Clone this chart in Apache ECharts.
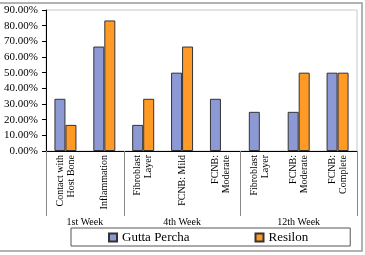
<!DOCTYPE html>
<html lang="en">
<head>
  <meta charset="UTF-8">
  <title>Chart</title>
  <script src="https://cdn.jsdelivr.net/npm/echarts@6.0.0/dist/echarts.min.js"></script>
</head>
<body style="margin: 0">
  <div id="container" style="width: 365px; height: 255px"></div>
  <script>
    // data
    var categories = ['Contact with\nHost Bone', 'Inflammation', 'Fibroblast\nLayer', 'FCNB: Mild',
      'FCNB:\nModerate', 'Fibroblast\nLayer', 'FCNB:\nModerate', 'FCNB:\nComplete'];
    var guttaPercha = [33.33, 66.67, 16.67, 50, 33.33, 25, 25, 50];
    var resilon = [16.67, 83.33, 33.33, 66.67, 0, 0, 50, 50];
    var weeks = ['1st Week', '4th Week', '12th Week'];
    var weekBounds = [0, 2, 5, 8];
    var weekCenters = [1, 3.5, 6.5];

    var font = 'Liberation Serif';
    var chart = echarts.init(document.getElementById('container'));

    // zero bars get no outline so they don't show as a line
    function barData(arr) {
      return arr.map(function (v) {
        return v === 0 ? { value: v, itemStyle: { borderWidth: 0 } } : v;
      });
    }

    var option = {
      animation: false,
      textStyle: { fontFamily: font },
      graphic: [{
        type: 'rect',
        shape: { x: -5, y: 3, width: 367, height: 248 },
        style: { fill: 'none', stroke: '#999', lineWidth: 1.5 },
        z: -1
      }],
      grid: {
        left: 46, right: 8, top: 10, bottom: 104,
        show: true, borderColor: '#c8c8c8', borderWidth: 1
      },
      legend: {
        left: 71, top: 228,
        padding: [3, 42, 2, 37],
        itemGap: 65,
        itemWidth: 8, itemHeight: 8,
        icon: 'rect',
        borderColor: '#555', borderWidth: 1,
        textStyle: { fontFamily: font, fontSize: 13, color: '#000' },
        data: ['Gutta Percha', 'Resilon']
      },
      xAxis: [{
        type: 'category',
        data: categories,
        axisLine: { lineStyle: { color: '#000' } },
        axisTick: { interval: 0, length: 46, lineStyle: { color: '#888' } },
        axisLabel: {
          interval: 0, rotate: 90, margin: 4,
          fontFamily: font, fontSize: 10, color: '#000', lineHeight: 11
        }
      }, {
        type: 'value',
        min: 0, max: 8,
        position: 'bottom',
        offset: 65,
        axisLine: { show: false },
        splitLine: { show: false },
        axisTick: {
          show: true, inside: true, length: 65,
          customValues: weekBounds,
          lineStyle: { color: '#888' }
        },
        axisLabel: {
          margin: 1,
          customValues: weekCenters,
          formatter: function (v) {
            return weeks[weekCenters.indexOf(v)];
          },
          fontFamily: font, fontSize: 10, color: '#000'
        }
      }],
      yAxis: {
        type: 'value',
        min: 0, max: 90, interval: 10,
        splitLine: { show: false },
        axisLine: { show: true, lineStyle: { color: '#000' } },
        axisTick: { show: true, length: 4, lineStyle: { color: '#000' } },
        axisLabel: {
          margin: 8,
          formatter: function (v) { return v.toFixed(2) + '%'; },
          fontFamily: font, fontSize: 11, color: '#000'
        }
      },
      series: [{
        name: 'Gutta Percha',
        type: 'bar',
        data: barData(guttaPercha),
        barWidth: 11,
        barGap: '0%',
        itemStyle: { color: '#8c99d4', borderColor: '#333', borderWidth: 1 }
      }, {
        name: 'Resilon',
        type: 'bar',
        data: barData(resilon),
        barWidth: 11,
        itemStyle: { color: '#ff9a26', borderColor: '#333', borderWidth: 1 }
      }]
    };
    chart.setOption(option);
  </script>
</body>
</html>
